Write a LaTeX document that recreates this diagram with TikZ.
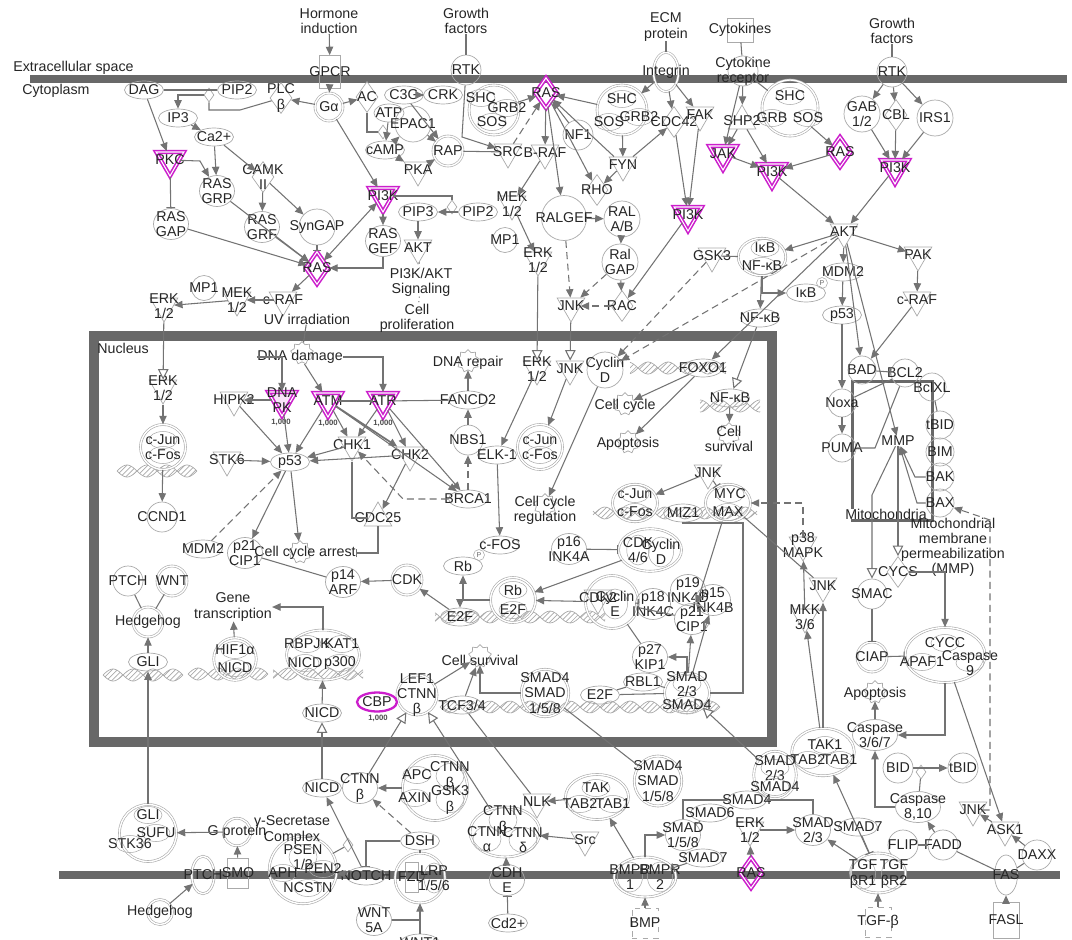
\documentclass[tikz,border=0pt]{standalone}
\usepackage{fontspec}
\setmainfont{Liberation Sans}
\usetikzlibrary{arrows.meta,positioning,shapes.geometric,shapes.symbols,patterns}

\definecolor{memb}{RGB}{104,104,104}
\definecolor{lnc}{RGB}{115,115,115}
\definecolor{shp}{RGB}{170,170,170}
\definecolor{mag}{RGB}{204,30,204}
\newcommand\lf{\fontsize{8.1}{8.6}\selectfont}
\newcommand\tf{\fontsize{4.4}{5}\selectfont\bfseries}

\tikzset{
  lbl/.style={font=\lf, text=black!85, inner sep=0pt, align=center},
  every label/.style={lbl},
  txt/.style={label={center:{#1}}},
  ov/.style={ellipse, draw=shp, line width=0.4pt, minimum width=0.78cm, minimum height=0.36cm, inner sep=0pt},
  ov2/.style={ov, minimum width=0.7cm, minimum height=0.62cm},
  cir/.style={circle, draw=shp, line width=0.4pt, minimum size=#1, inner sep=0pt},
  cir/.default=0.6cm,
  cx/.style={circle, draw=shp, line width=0.35pt, double=white, double distance=0.8pt, minimum size=#1, inner sep=0pt},
  cx/.default=0.6cm,
  cxe/.style 2 args={ellipse, draw=shp, line width=0.35pt, double=white, double distance=0.8pt, minimum width=#1, minimum height=#2, inner sep=0pt},
  sub/.style={ellipse, draw=shp, line width=0.3pt, minimum width=0.56cm, minimum height=0.34cm, inner sep=0pt},
  kin/.style={regular polygon, regular polygon sides=3, shape border rotate=180, draw=shp, line width=0.4pt, minimum size=0.64cm, inner sep=0pt},
  kinup/.style={kin, shape border rotate=0},
  enz/.style={diamond, draw=shp, line width=0.4pt, minimum width=0.44cm, minimum height=0.62cm, inner sep=0pt},
  cat/.style={diamond, draw=shp, fill=white, line width=0.4pt, minimum width=0.2cm, minimum height=0.28cm, inner sep=0pt},
  rec/.style={rectangle, draw=shp, line width=0.4pt, minimum width=0.42cm, minimum height=0.66cm, inner sep=0pt},
  fn/.style={starburst, starburst points=9, starburst point height=1.5pt, random starburst=0, draw=shp, line width=0.4pt, minimum size=0.46cm, inner sep=0pt},
  hit/.style={draw=mag, line width=0.9pt, double=white, double distance=0.6pt},
  hitov/.style={ellipse, draw=mag, line width=1.3pt, minimum width=0.8cm, minimum height=0.38cm, inner sep=0pt},
  thou/.style={font=\tf, text=black!70, inner sep=0pt},
  pmark/.style={circle, draw=shp, line width=0.3pt, minimum size=0.22cm, inner sep=0pt, font=\fontsize{4}{4}\selectfont, text=black!60},
  ln/.style={draw=lnc, line width=0.6pt},
  ar/.style={ln, -{Triangle[length=4.8pt,width=4.2pt]}},
  biar/.style={ln, {Triangle[length=4.8pt,width=4.2pt]}-{Triangle[length=4.8pt,width=4.2pt]}},
  dar/.style={ar, dash pattern=on 4pt off 2.5pt},
  inh/.style={ln, -{Bar[width=5pt]}},
  oar/.style={ln, -{Triangle[length=6pt,width=6pt,fill=white]}},
  pl/.style={ln},
  dotln/.style={ln, dotted},
  wall/.style={draw=memb, line width=0.16cm},
  pics/helix/.style={code={
    \fill[pattern=north east lines, pattern color=shp]
      plot[domain=-#1:#1, samples=60, smooth] (\x,{6*sin(9*\x)}) --
      plot[domain=#1:-#1, samples=60, smooth] (\x,{-6*sin(9*\x)}) -- cycle;
    \draw[shp, line width=0.4pt] plot[domain=-#1:#1, samples=60, smooth] (\x,{6*sin(9*\x)});
    \draw[shp, line width=0.4pt] plot[domain=-#1:#1, samples=60, smooth] (\x,{-6*sin(9*\x)});
  }}
}

\begin{document}
\begin{tikzpicture}[x=0.02cm, y=-0.02cm]
\useasboundingbox (0,0) rectangle (1072,940);
\clip (0,0) rectangle (1072,940);
\fill[white] (0,0) rectangle (1072,940);

% Membranes and compartments
\draw[wall] (30,79) -- (1067,79);
\draw[wall] (59,875) -- (1060,875);
\draw[wall, line width=0.2cm] (94,336) rectangle (772,742);
\draw[draw=memb, line width=0.06cm] (852,381) rectangle (932,520);
\node[lbl, anchor=west] (extra) at (13,68) {Extracellular space};
\node[lbl, anchor=west] (cyto) at (22,91) {Cytoplasm};
\node[lbl, anchor=west] (nucl) at (97,348) {Nucleus};

% DNA helices
\pic at (157,471) {helix=40};
\pic at (143,675) {helix=40};
\pic at (228,674) {helix=40};
\pic at (318,674) {helix=45};
\pic at (678,368) {helix=48};
\pic at (730,406) {helix=30};
\pic at (675,513) {helix=82};
\pic at (520,617) {helix=85};
\pic at (580,707) {helix=140};

% Upper left: PLC / PKC / RAS
\node[lbl] (horm) at (329,21) {Hormone\\induction};
\node[rec, txt=GPCR] (gpcr) at (330,72) {};
\node[cx=0.56cm, txt=Gα] (galpha) at (329,107) {};
\node[enz, txt={PLC\\β}] (plc) at (281,98) {};
\node[enz, txt=AC] (ac) at (367,97) {};
\node[ov, txt=C3G] (c3g) at (404,95) {};
\node[ov, txt=CRK] (crk) at (443,95) {};
\node[ov, minimum width=0.6cm, txt=ATP] (atp) at (389,113) {};
\node[cir=0.72cm, txt=EPAC1] (epac) at (413,124) {};
\node[cat] (cat2) at (383,132) {};
\node[ov, txt=cAMP] (camp) at (385,150) {};
\node[cx, txt=RAP] (rap) at (448,151) {};
\node[kin, txt=PKA] (pka) at (418,170) {};
\node[ov, txt=DAG] (dag) at (144,90) {};
\node[ov, txt=PIP2] (pip2a) at (237,90) {};
\node[cat] (cat1) at (209,95) {};
\node[ov, txt=IP3] (ip3) at (178,118) {};
\node[ov, txt=Ca2+] (ca) at (214,137) {};
\node[kin, hit, txt=PKC] (pkc) at (170,160) {};
\node[ov2, txt={RAS\\GRP}] (rasgrp) at (217,191) {};
\node[enz, txt={CAMK\\II}] (camk) at (263,177) {};
\node[ov2, txt={RAS\\GAP}] (rasgap) at (171,224) {};
\node[ov2, txt={RAS\\GRF}] (rasgrf) at (262,227) {};
\node[cir=0.72cm, txt=SynGAP] (syngap) at (317,227) {};
\node[enz, hit, minimum width=0.46cm, minimum height=0.66cm, txt=RAS] (ras1) at (317,268) {};
\node[cir=0.5cm, txt=MP1] (mp1a) at (204,288) {};
\node[kin, txt={MEK\\1/2}] (mek1) at (237,300) {};
\node[kin, txt={ERK\\1/2}] (erk1) at (164,306) {};
\node[kin, txt=c-RAF] (craf1) at (283,300) {};
\node[lbl] (uv) at (307,319) {UV irradiation};

% Upper middle: RTK / RAS / PI3K
\node[lbl] (gf1) at (466,21) {Growth\\factors};
\node[cir, txt=RTK] (rtk1) at (466,70) {};
\node[cx=1.0cm] (shc1) at (494,110) {};
\node[sub, txt=SHC] (shc1a) at (481,98) {};
\node[sub, txt=GRB2] (shc1b) at (507,108) {};
\node[sub, txt=SOS] (shc1c) at (492,122) {};
\node[kin, txt=SRC] (src) at (508,152) {};
\node[kin, txt=B-RAF] (braf) at (545,153) {};
\node[enz, hit, txt=RAS] (ras2) at (546,93) {};
\node[kin, hit, txt=PI3K] (pi3k1) at (383,196) {};
\node[ov2, txt={RAS\\GEF}] (rasgef) at (383,241) {};
\node[ov, txt=PIP3] (pip3) at (418,212) {};
\node[cat] (cat3) at (452,207) {};
\node[ov, txt=PIP2] (pip2b) at (478,212) {};
\node[kin, txt={MEK\\1/2}] (mek2) at (512,204) {};
\node[kin, txt=AKT] (akt1) at (418,248) {};
\node[lbl] (pi3ksig) at (421,282) {PI3K/AKT\\Signaling};
\node[lbl] (cellprol) at (417,318) {Cell\\proliferation};
\node[cir=0.5cm, txt=MP1] (mp1b) at (505,240) {};
\node[kin, txt={ERK\\1/2}] (erk2) at (538,260) {};

\node[lbl] (ecm) at (666,27) {ECM\\protein};
\node[cxe={0.5cm}{0.78cm}, txt=Integrin] (integ) at (666,72) {};
\node[cx=1.0cm] (shc2) at (622,110) {};
\node[sub, txt=SHC] (shc2a) at (622,99) {};
\node[sub, txt=SOS] (shc2b) at (609,122) {};
\node[sub, txt=GRB2] (shc2c) at (639,117) {};
\node[enz, txt=CDC42] (cdc42) at (674,122) {};
\node[kin, txt=FAK] (fak) at (700,115) {};
\node[cir, txt=NF1] (nf1) at (578,135) {};
\node[kin, txt=FYN] (fyn) at (623,165) {};
\node[enz, txt=RHO] (rho) at (597,190) {};
\node[cir=0.9cm, txt=RALGEF] (ralgef) at (564,218) {};
\node[cir=0.72cm, txt={RAL\\A/B}] (ralab) at (622,219) {};
\node[cir=0.72cm, txt={Ral\\GAP}] (ralgap) at (620,262) {};
\node[kin, txt=JNK] (jnk1) at (571,306) {};
\node[enz, txt=RAC] (rac) at (622,306) {};
\node[kin, hit, txt=PI3K] (pi3k2) at (688,215) {};

% Upper right: cytokines / RTK / AKT
\node[rec, minimum width=0.52cm, minimum height=0.48cm, txt=Cytokines] (cytok) at (740,30) {};
\node[cir, txt={Cytokine\\receptor}] (cytrec) at (743,71) {};
\node[kinup, txt=SHP2] (shp2) at (742,121) {};
\node[kin, hit, txt=JAK] (jak) at (723,154) {};
\node[kin, hit, txt=PI3K] (pi3k3) at (772,172) {};
\node[cx=1.12cm] (shc3) at (790,108) {};
\node[sub, txt=SHC] (shc3a) at (790,96) {};
\node[sub, txt=GRB] (shc3b) at (772,118) {};
\node[sub, txt=SOS] (shc3c) at (808,118) {};
\node[enz, hit, txt=RAS] (ras3) at (840,152) {};
\node[lbl] (gf2) at (892,31) {Growth\\factors};
\node[cir, txt=RTK] (rtk2) at (892,72) {};
\node[cir=0.72cm, txt={GAB\\1/2}] (gab) at (862,114) {};
\node[enz, txt=CBL] (cbl) at (896,115) {};
\node[cir=0.72cm, txt=IRS1] (irs1) at (935,118) {};
\node[kin, hit, txt=PI3K] (pi3k4) at (895,168) {};
\node[kin, txt=AKT] (akt2) at (844,232) {};
\node[kin, txt=GSK3] (gsk3) at (712,256) {};
\node[cxe={0.95cm}{0.75cm}] (ikbnf) at (762,257) {};
\node[sub, txt=IκB] (ikbnfa) at (765,248) {};
\node[sub, txt=NF-κB] (ikbnfb) at (762,266) {};
\node[ov, txt=IκB] (ikb) at (806,293) {};
\node[pmark] (ikbp) at (822,283) {P};
\node[ov, txt=NF-κB] (nfkb1) at (760,318) {};
\node[kin, txt=PAK] (pak) at (918,255) {};
\node[ov, txt=MDM2] (mdm2a) at (843,272) {};
\node[kin, txt=c-RAF] (craf2) at (917,300) {};
\node[ov, txt=p53] (p53a) at (842,315) {};

% Mitochondria
\node[cir=0.56cm, txt=BAD] (bad) at (862,370) {};
\node[cir=0.56cm, txt=BCL2] (bcl2) at (905,373) {};
\node[cir=0.56cm, txt=BclXL] (bclxl) at (932,387) {};
\node[cir=0.56cm, txt=Noxa] (noxa) at (842,403) {};
\node[cir=0.56cm, txt=PUMA] (puma) at (842,448) {};
\node[lbl] (mmp) at (898,441) {MMP};
\node[cir=0.56cm, txt=tBID] (tbid1) at (940,425) {};
\node[cir=0.56cm, txt=BIM] (bim) at (940,452) {};
\node[cir=0.56cm, txt=BAK] (bak) at (940,477) {};
\node[cir=0.56cm, txt=BAX] (bax) at (940,503) {};
\node[lbl, fill=white] (mito) at (886,514) {Mitochondria};
\node[lbl] (mmptext) at (953,547) {Mitochondrial\\membrane\\permeabilization\\(MMP)};
\node[enz, txt=CYCS] (cycs) at (898,572) {};
\node[cir, txt=SMAC] (smac) at (872,594) {};
\node[kin, txt=JNK] (jnk4) at (823,586) {};
\node[kin, txt={p38\\MAPK}] (p38) at (803,545) {};
\node[kin, txt={MKK\\3/6}] (mkk) at (805,617) {};
\node[cx, txt=CIAP] (ciap) at (872,657) {};
\node[cxe={1.6cm}{1.1cm}] (apop9) at (945,655) {};
\node[sub, txt=CYCC] (apop9a) at (945,643) {};
\node[sub, txt=APAF1] (apop9b) at (922,662) {};
\node[sub, txt={Caspase\\9}] (apop9c) at (970,663) {};
\node[fn] (apopt2g) at (875,692) {};
\node[lbl] (apopt2) at (875,694) {Apoptosis};
\node[ov2, minimum width=0.9cm, txt={Caspase\\3/6/7}] (casp3) at (875,735) {};
\node[cxe={1.25cm}{0.95cm}] (tak1c) at (823,752) {};
\node[sub, txt=TAK1] (tak1a) at (825,745) {};
\node[sub, txt=TAB2] (tak1b) at (808,760) {};
\node[sub, txt=TAB1] (tak1d) at (840,760) {};
\node[cir, txt=BID] (bid) at (898,768) {};
\node[cat] (cat4) at (921,772) {};
\node[cir, txt=tBID] (tbid2) at (963,768) {};
\node[ov2, minimum width=0.9cm, txt={Caspase\\8,10}] (casp8) at (918,807) {};
\node[kin, txt=JNK] (jnk5) at (973,810) {};
\node[kin, txt=ASK1] (ask1) at (1005,830) {};
\node[cir, txt=DAXX] (daxx) at (1037,855) {};
\node[cir, txt=FLIP] (flip) at (903,845) {};
\node[cir, txt=FADD] (fadd) at (943,845) {};
\node[ellipse, draw=shp, minimum width=0.46cm, minimum height=0.8cm, inner sep=0pt, txt=FAS] (fas) at (1006,875) {};
\node[rec, minimum width=0.52cm, minimum height=0.72cm, txt=FASL] (fasl) at (1006,920) {};
\node[cxe={1.1cm}{0.8cm}] (tgfr) at (878,873) {};
\node[sub, minimum width=0.5cm, minimum height=0.6cm, txt={TGF\\βR1}] (tgfra) at (863,874) {};
\node[sub, minimum width=0.5cm, minimum height=0.6cm, txt={TGF\\βR2}] (tgfrb) at (894,874) {};
\node[rec, dashed, minimum width=0.52cm, minimum height=0.6cm, txt=TGF-β] (tgfb) at (878,922) {};
\node[ov2, txt={SMAD\\2/3}] (smad23b) at (813,830) {};
\node[ov, txt=SMAD7] (smad7b) at (858,827) {};

% Bottom middle: SMAD / BMP / WNT
\node[cxe={0.85cm}{0.95cm}] (smad23c) at (775,775) {};
\node[sub, txt={SMAD\\2/3}] (smad23ca) at (775,768) {};
\node[sub, txt=SMAD4] (smad23cb) at (775,787) {};
\node[ov, txt=SMAD4] (smad4b) at (747,800) {};
\node[kin, txt={ERK\\1/2}] (erk5) at (750,830) {};
\node[enz, hit, txt=RAS] (ras4) at (751,873) {};
\node[cxe={0.95cm}{1.0cm}, txt={SMAD4\\SMAD\\1/5/8}] (smad4c) at (658,781) {};
\node[ov, txt=SMAD6] (smad6) at (710,813) {};
\node[ov2, txt={SMAD\\1/5/8}] (smad158) at (683,835) {};
\node[ov, txt=SMAD7] (smad7a) at (703,858) {};
\node[cxe={1.24cm}{0.8cm}] (bmpr) at (645,877) {};
\node[sub, minimum width=0.5cm, minimum height=0.6cm, txt={BMPR\\1}] (bmpra) at (630,877) {};
\node[sub, minimum width=0.5cm, minimum height=0.6cm, txt={BMPR\\2}] (bmprb) at (660,877) {};
\node[rec, dashed, minimum width=0.52cm, minimum height=0.6cm, txt=BMP] (bmp) at (645,923) {};
\node[cxe={1.26cm}{0.9cm}] (tak2c) at (597,797) {};
\node[sub, txt=TAK] (tak2a) at (596,788) {};
\node[sub, txt=TAB2] (tak2b) at (580,804) {};
\node[sub, txt=TAB1] (tak2d) at (613,804) {};
\node[kin, txt=Src] (srcb) at (585,840) {};
\node[kin, txt=NLK] (nlk) at (537,802) {};
\node[cxe={1.4cm}{1.0cm}] (ctnnc) at (505,832) {};
\node[sub, minimum height=0.5cm, txt={CTNN\\β}] (ctnnca) at (503,820) {};
\node[sub, minimum height=0.5cm, txt={CTNN\\α}] (ctnncb) at (487,839) {};
\node[sub, minimum height=0.5cm, txt={CTNN\\δ}] (ctnncc) at (523,840) {};
\node[ov2, txt={CDH\\E}] (cdh) at (507,880) {};
\node[ov, txt=Cd2+] (cd2) at (508,923) {};
\node[cx=1.3cm] (apcc) at (435,788) {};
\node[sub, txt=APC] (apca) at (417,775) {};
\node[sub, minimum height=0.5cm, txt={CTNN\\β}] (apcb) at (450,776) {};
\node[sub, txt=AXIN] (apcd) at (415,798) {};
\node[sub, minimum height=0.5cm, txt={GSK3\\β}] (apce) at (450,800) {};
\node[ov2, txt={CTNN\\β}] (ctnnb) at (360,788) {};
\node[ov, txt=NICD] (nicdc) at (322,788) {};
\node[ov, txt=DSH] (dsh) at (420,841) {};
\node[cat] (cat5) at (348,845) {};
\node[ov, txt=NOTCH] (notch) at (366,876) {};
\node[cx=1.0cm] (fzdc) at (420,878) {};
\node[rectangle, draw=shp, minimum width=0.26cm, minimum height=0.6cm, inner sep=0pt, txt=FZD] (fzda) at (412,877) {};
\node[sub, minimum width=0.4cm, minimum height=0.6cm, txt={LRP\\1/5/6}] (fzdb) at (434,878) {};
\node[ov2, txt={WNT\\5A}] (wnt5a) at (374,920) {};
\node[ov, txt=WNT1] (wnt1) at (420,943) {};
\node[cx=1.35cm] (secr) at (303,870) {};
\node[sub, minimum height=0.5cm, txt={PSEN\\1/2}] (secra) at (303,857) {};
\node[sub, txt=PEN2] (secrb) at (323,869) {};
\node[sub, txt=APH] (secrc) at (283,873) {};
\node[sub, txt=NCSTN] (secrd) at (308,888) {};
\node[lbl] (gsec) at (292,830) {γ-Secretase\\Complex};
\node[cx=0.55cm, txt=G protein] (gprot) at (237,832) {};
\node[cx=1.14cm] (glic) at (148,833) {};
\node[sub, txt=GLI] (glica) at (148,815) {};
\node[sub, txt=SUFU] (glicb) at (156,833) {};
\node[sub, txt=STK36] (glicc) at (130,844) {};
\node[cxe={0.45cm}{0.75cm}, txt=PTCH] (ptch2) at (203,875) {};
\node[rec, minimum height=0.6cm, txt=SMO] (smo) at (238,873) {};
\node[cx=0.5cm, txt=Hedgehog] (hh2) at (160,912) {};

% Nucleus: DNA damage response
\node[fn] (dnadg) at (302,353) {};
\node[lbl] (dnad) at (300,357) {DNA damage};
\node[kin, hit, fill=mag!12, txt={DNA\\PK}] (dnapk) at (282,400) {};
\node[thou] (dnapkn) at (281,422) {1,000};
\node[kin, txt=HIPK2] (hipk2) at (234,400) {};
\node[kin, hit, txt=ATM] (atm) at (328,401) {};
\node[thou] (atmn) at (328,423) {1,000};
\node[kin, hit, txt=ATR] (atr) at (383,401) {};
\node[thou] (atrn) at (383,423) {1,000};
\node[ov, txt=FANCD2] (fancd2) at (468,400) {};
\node[fn] (dnarepg) at (468,361) {};
\node[lbl] (dnarep) at (468,363) {DNA repair};
\node[cir, txt=NBS1] (nbs1) at (468,440) {};
\node[ov, txt=BRCA1] (brca1) at (468,499) {};
\node[kin, txt=CHK1] (chk1) at (352,445) {};
\node[kin, txt=CHK2] (chk2) at (410,455) {};
\node[ov, txt=p53] (p53b) at (290,462) {};
\node[kin, txt=STK6] (stk6) at (227,460) {};
\node[kinup, txt=CDC25] (cdc25) at (378,518) {};
\node[fn] (ccag) at (300,552) {};
\node[lbl] (cca) at (305,553) {Cell cycle arrest};
\node[ov, txt=MDM2] (mdm2b) at (203,549) {};
\node[ov2, txt={p21\\CIP1}] (p21a) at (245,553) {};
\node[ov2, txt={p14\\ARF}] (p14) at (343,582) {};
\node[cx, txt=CDK] (cdk) at (407,580) {};
\node[ov, txt=c-FOS] (cfos) at (500,545) {};
\node[ov, txt=Rb] (rb) at (463,566) {};
\node[pmark] (rbp) at (479,555) {P};
\node[cx=0.9cm] (rbe2f) at (513,600) {};
\node[sub, txt=Rb] (rbe2fa) at (513,590) {};
\node[sub, txt=E2F] (rbe2fb) at (513,610) {};
\node[ov, txt=E2F] (e2fa) at (460,617) {};

% Nucleus: left
\node[kin, txt={ERK\\1/2}] (erk4) at (163,388) {};
\node[cx=0.9cm] (jfos1) at (163,447) {};
\node[sub, txt=c-Jun] (jfos1a) at (163,440) {};
\node[sub, txt=c-Fos] (jfos1b) at (163,455) {};
\node[cir, txt=CCND1] (ccnd1) at (162,517) {};
\node[cir, txt=PTCH] (ptch1) at (128,581) {};
\node[cx, txt=WNT] (wnt) at (172,581) {};
\node[cx, txt=Hedgehog] (hh1) at (148,622) {};
\node[ov, txt=GLI] (glib) at (148,662) {};
\node[lbl] (genetr) at (233,607) {Gene\\transcription};
\node[cx=0.85cm] (hif) at (235,659) {};
\node[sub, txt=HIF1α] (hifa) at (235,650) {};
\node[sub, txt=NICD] (hifb) at (235,668) {};
\node[cxe={1.46cm}{1.0cm}] (rbpjk) at (323,655) {};
\node[sub, txt=RBPJK] (rbpjka) at (307,644) {};
\node[sub, txt=KAT1] (rbpjkb) at (342,644) {};
\node[sub, txt=NICD] (rbpjkc) at (305,663) {};
\node[sub, txt=p300] (rbpjkd) at (340,663) {};
\node[ov, txt=NICD] (nicdb) at (322,713) {};

% Nucleus: middle and right
\node[kin, txt={ERK\\1/2}] (erk3) at (537,369) {};
\node[ov, txt=ELK-1] (elk1) at (497,455) {};
\node[cx=0.9cm] (jfos2) at (540,447) {};
\node[sub, txt=c-Jun] (jfos2a) at (540,440) {};
\node[sub, txt=c-Fos] (jfos2b) at (540,455) {};
\node[fn] (ccrg) at (545,505) {};
\node[lbl] (ccr) at (545,510) {Cell cycle\\regulation};
\node[kin, txt=JNK] (jnk2) at (570,369) {};
\node[cir=0.72cm, txt={Cyclin\\D}] (cycd) at (605,370) {};
\node[ov, txt=FOXO1] (foxo1) at (703,368) {};
\node[fn] (cellcycg) at (625,404) {};
\node[lbl] (cellcyc) at (625,406) {Cell cycle};
\node[fn] (apopt1g) at (628,442) {};
\node[lbl] (apopt1) at (628,444) {Apoptosis};
\node[ov, txt=NF-κB] (nfkb2) at (730,398) {};
\node[fn] (cellsurv1g) at (729,434) {};
\node[lbl] (cellsurv1) at (729,439) {Cell\\survival};
\node[kin, txt=JNK] (jnk3) at (708,473) {};
\node[cxe={0.9cm}{0.75cm}] (jfos3) at (635,503) {};
\node[sub, txt=c-Jun] (jfos3a) at (635,494) {};
\node[sub, txt=c-Fos] (jfos3b) at (635,512) {};
\node[ov, txt=MIZ1] (miz1) at (683,513) {};
\node[cxe={0.9cm}{0.75cm}] (mycmax) at (728,503) {};
\node[sub, txt=MYC] (mycmaxa) at (730,494) {};
\node[sub, txt=MAX] (mycmaxb) at (728,512) {};
\node[ov2, txt={p16\\INK4A}] (p16) at (569,549) {};
\node[cxe={1.26cm}{0.85cm}] (cdk46) at (650,550) {};
\node[sub, minimum width=0.45cm, minimum height=0.6cm, txt={CDK\\4/6}] (cdk46a) at (638,550) {};
\node[sub, minimum width=0.5cm, minimum height=0.6cm, txt={Cyclin\\D}] (cdk46b) at (661,552) {};
\node[cx=1.06cm] (cdk2c) at (612,602) {};
\node[kin, txt=CDK2] (cdk2a) at (598,598) {};
\node[sub, minimum width=0.5cm, minimum height=0.6cm, txt={Cyclin\\E}] (cdk2b) at (615,604) {};
\node[ov2, txt={p18\\INK4C}] (p18) at (653,604) {};
\node[ov2, txt={p19\\INK4D}] (p19) at (688,590) {};
\node[ov2, txt={p15\\INK4B}] (p15) at (713,600) {};
\node[ov2, txt={p21\\CIP1}] (p21b) at (692,619) {};
\node[ov2, txt={p27\\KIP1}] (p27) at (650,657) {};
\node[ov, txt=RBL1] (rbl1) at (643,682) {};
\node[ov, txt=E2F] (e2fb) at (600,695) {};
\node[cxe={0.9cm}{0.8cm}] (smad23a) at (687,693) {};
\node[sub, txt={SMAD\\2/3}] (smad23aa) at (687,684) {};
\node[sub, txt=SMAD4] (smad23ab) at (687,705) {};
\node[cx=0.95cm, txt={SMAD4\\SMAD\\1/5/8}] (smad4a) at (545,693) {};
\node[ov, txt=TCF3/4] (tcf) at (462,705) {};
\node[cx=0.8cm, txt={LEF1\\CTNN\\β}] (lef1) at (417,695) {};
\node[hitov, txt=CBP] (cbp) at (377,702) {};
\node[thou] (cbpn) at (378,718) {1,000};
\node[fn] (cellsurv2g) at (480,656) {};
\node[lbl] (cellsurv2) at (480,660) {Cell survival};

% Connectors: upper left
\draw[ar] (horm) -- (gpcr);
\draw[ar] (gpcr) -- (galpha);
\draw[ar] (galpha) -- (plc);
\draw[ar] (galpha) -- (ac);
\draw[ar] (galpha) -- (pi3k1);
\draw[ar] (crk) -- (c3g);
\draw[ar] (c3g) -- (rap);
\draw[pl] (ac) |- (cat2);
\draw[ar] (atp) -- (camp);
\draw[ar] (camp) -- (epac);
\draw[ar] (camp) -- (pka);
\draw[ar] (epac) -- (rap);
\draw[ar] (pka) -- (rap);
\draw[pl] (rap) -- (src);
\draw[ar] (rtk1) -- (462,137) -- (src);
\draw[ar] (shc1) -- (ras2);
\draw[ar] (ras2) -- (braf);
\draw[dar] (src) -- (ras2);
\draw[ar] (braf) -- (mek2);
\draw[ar] (mek2) -- (erk2);
\draw[oar] (erk2) -- (erk3);
\draw[pl] (pip2a) -- (dag);
\draw[pl] (cat1) |- (240,110) -- (plc);
\draw[ar] (cat1) -| (ip3);
\draw[ar] (dag) -- (pkc);
\draw[ar] (ip3) -- (ca);
\draw[ar] (ca) -- (rasgrp);
\draw[ar] (ca) -- (camk);
\draw[ar] (pkc) -- (200,161) -- (rasgrp);
\draw[inh] (pkc) -- (rasgap);
\draw[ar] (camk) -- (syngap);
\draw[inh] (syngap) -- (ras1);
\draw[ar] (camk) -- (rasgrf);
\draw[ar] (rasgrp) -- (ras1);
\draw[ar] (rasgrf) -- (ras1);
\draw[ar] (rasgap) -- (ras1);
\draw[ar] (pi3k1) -- (rasgef);
\draw[ar] (rasgef) |- (ras1);
\draw[biar] (ras1) -- (pi3k1);
\draw[pl] (pi3k1) -| (cat3);
\draw[ar] (pip2b) -- (pip3);
\draw[ar] (pip3) -- (akt1);
\draw[dotln] (akt1) -- (pi3ksig);
\draw[dotln] (pi3ksig) -- (cellprol);
\draw[ar] (ras1) -- (craf1);
\draw[ar] (craf1) -- (mek1);
\draw[ar] (mek1) -- (erk1);
\draw[oar] (erk1) -- (erk4);
\draw[pl] (uv) -- (dnadg);

% Connectors: upper middle
\draw[pl] (gf1) -- (rtk1);
\draw[ar] (nf1) -- (ras2);
\draw[ar] (ras2) -- (rho);
\draw[ar] (ras2) -- (ralgef);
\draw[ar] (fyn) -- (ras2);
\draw[ar] (shc2) -- (ras2);
\draw[pl] (ecm) -- (integ);
\draw[ar] (integ) -- (shc2);
\draw[ar] (integ) -- (cdc42);
\draw[ar] (integ) -- (fak);
\draw[ar] (cdc42) -- (pi3k2);
\draw[ar] (fak) -- (pi3k2);
\draw[ar] (fyn) -- (cdc42);
\draw[ar] (shc2) -- (fyn);
\draw[ar] (fyn) -- (rho);
\draw[ar] (ralgef) -- (ralab);
\draw[dar] (ralgef) -- (jnk1);
\draw[ar] (ralab) -- (ralgap);
\draw[ar] (ralgap) -- (rac);
\draw[dar] (ralgap) -- (jnk1);
\draw[dar] (rac) -- (jnk1);
\draw[ar] (pi3k2) -- (rac);
\draw[oar] (jnk1) -- (jnk2);

% Connectors: upper right
\draw[pl] (cytok) -- (cytrec);
\draw[ar] (cytrec) -- (jak);
\draw[ar] (cytrec) -- (shp2);
\draw[pl] (cytrec) -- (shc3);
\draw[ar] (shp2) -- (jak);
\draw[ar] (shp2) -- (pi3k3);
\draw[ar] (jak) -- (pi3k3);
\draw[ar] (shc3) -- (ras3);
\draw[ar] (ras3) -- (pi3k3);
\draw[ar] (pi3k3) -- (akt2);
\draw[pl] (gf2) -- (rtk2);
\draw[ar] (rtk2) -- (gab);
\draw[ar] (rtk2) -- (cbl);
\draw[ar] (rtk2) -- (irs1);
\draw[ar] (gab) -- (pi3k4);
\draw[ar] (cbl) -- (pi3k4);
\draw[ar] (irs1) -- (pi3k4);
\draw[ar] (pi3k4) -- (akt2);
\draw[ar] (akt2) -- (ikbnf);
\draw[pl] (gsk3) -- (ikbnf);
\draw[ar] (ikbnf) |- (ikb);
\draw[ar] (ikbnf) -- (nfkb1);
\draw[oar] (nfkb1) -- (nfkb2);
\draw[dar] (akt2) -- (cycd);
\draw[dar] (gsk3) -- (cycd);
\draw[ar] (akt2) -- (foxo1);
\draw[ar] (akt2) -- (mdm2a);
\draw[ar] (mdm2a) -- (p53a);
\draw[ar] (akt2) -- (pak);
\draw[ar] (pak) -- (craf2);
\draw[ar] (craf2) -- (bad);
\draw[ar] (akt2) -- (bad);
\draw[ar] (akt2) -- (mmp);
\draw[ar] (p53a) -- (noxa);
\draw[ar] (noxa) -- (puma);
\draw[inh] (bad) -- (bcl2);
\draw[pl] (noxa) -- (bcl2);
\draw[pl] (puma) -- (875,448) -- (bcl2);
\draw[pl] (bclxl) -- (tbid1);
\draw[ar] (bak) -- (915,477) -- (mmp);
\draw[ar] (bax) -- (917,503) -- (mmp);
\draw[oar] (mmp) -- (872,495) -- (smac);
\draw[oar] (mmp) -- (cycs);
\draw[ar] (cycs) -| (apop9);
\draw[inh] (smac) -- (ciap);
\draw[inh] (ciap) -- (apop9);
\draw[ar] (apop9) |- (casp3);
\draw[ar] (apop9) -- (ask1);
\draw[ar] (casp3) -- (apopt2g);
\draw[ar] (casp8) -| (casp3);
\draw[ar] (bid) -- (tbid2);
\draw[pl] (casp8) -- (cat4);
\draw[ar] (fadd) -- (casp8);
\draw[pl] (flip) -- (fadd);
\draw[pl] (fas) -- (fadd);
\draw[ar] (fasl) -- (fas);
\draw[pl] (fas) -- (daxx);
\draw[ar] (daxx) -- (ask1);
\draw[ar] (ask1) -- (jnk5);
\draw[dar] (jnk5) -| (990,520) -- (bax);
\draw[ar] (tgfb) -- (tgfr);
\draw[ar] (tgfr) -- (tak1c);
\draw[ar] (tgfr) -- (smad23b);
\draw[inh] (smad7b) -- (tgfr);
\draw[ar] (tak1c) -- (mkk);
\draw[ar] (tak1c) -- (jnk4);
\draw[ar] (mkk) -- (p38);
\draw[dar] (p38) |- (mycmax);
\draw[pl] (jnk4) -- (mycmax);

% Connectors: bottom
\draw[ar] (ras4) -- (erk5);
\draw[ar] (erk5) -- (smad23b);
\draw[pl] (smad4b) -| (smad23b);
\draw[pl] (smad158) |- (smad4b);
\draw[oar] (smad23c) -- (smad23a);
\draw[pl] (smad4c) -- (smad4a);
\draw[ar] (bmpr) |- (smad158);
\draw[inh] (smad7a) -- (bmpr);
\draw[pl] (smad6) -- (smad158);
\draw[ar] (bmpr) -- (tak2c);
\draw[ar] (bmp) -- (bmpr);
\draw[ar] (tak2c) -- (nlk);
\draw[ar] (srcb) -- (ctnnc);
\draw[ar] (cdh) -- (ctnnc);
\draw[inh] (cd2) -- (cdh);
\draw[pl] (nlk) -- (tcf);
\draw[oar] (ctnnc) -- (lef1);
\draw[oar] (ctnnb) -- (lef1);
\draw[ar] (apcc) -- (ctnnb);
\draw[dar] (dsh) -- (ctnnb);
\draw[pl] (fzdc) -- (dsh);
\draw[inh] (dsh) -| (notch);
\draw[ar] (notch) -- (nicdc);
\draw[ar] (notch) -- (secr);
\draw[pl] (secr) -- (cat5);
\draw[oar] (nicdc) -- (nicdb);
\draw[ar] (nicdb) -- (rbpjk);
\draw[ar] (wnt1) -- (fzdc);
\draw[inh] (wnt5a) -- (wnt1 |- wnt5a);
\draw[ar] (hh2) -- (ptch2);
\draw[ar] (smo) -- (gprot);
\draw[ar] (gprot) -- (glic);
\draw[ar] (glic) -- (glib);
\draw[ar] (glib) -- (hh1);
\draw[pl] (ptch1) -- (hh1);
\draw[pl] (wnt) -- (hh1);
\draw[ar] (hif) -- (genetr);
\draw[ar] (rbpjk) |- (genetr);
\draw[ar] (lef1) -- (cellsurv2g);
\draw[ar] (tcf) -- (cellsurv2g);
\draw[ar] (smad4a) -| (cellsurv2g);
\draw[pl] (cbp) -- (lef1);

% Connectors: nucleus
\draw[ar] (dnad) -| (atr);
\draw[ar] (dnad) -- (atm);
\draw[ar] (dnad) -| (dnapk);
\draw[ar] (dnapk) -- (hipk2);
\draw[ar] (hipk2) -- (p53b);
\draw[ar] (dnapk) -- (p53b);
\draw[ar] (atm) -- (p53b);
\draw[ar] (atm) -- (chk1);
\draw[ar, line width=1pt] (atm) -- (chk2);
\draw[ar] (atm) -- (brca1);
\draw[pl] (atm) -- (atr);
\draw[pl] (atr) -- (fancd2);
\draw[ar] (atr) -- (chk1);
\draw[ar] (atr) -- (chk2);
\draw[ar] (atr) -- (brca1);
\draw[ar] (chk1) -- (p53b);
\draw[ar] (chk2) -- (p53b);
\draw[inh] (chk1) |- (cdc25);
\draw[ar] (chk2) -- (cdc25);
\draw[inh] (cdc25) |- (cca);
\draw[dar] (brca1) -- (403,499) -- (chk1);
\draw[dar] (brca1) -- (nbs1);
\draw[ar] (nbs1) -- (fancd2);
\draw[ar] (fancd2) -- (dnarepg);
\draw[ar] (stk6) -- (p53b);
\draw[ar] (p53b) -- (p21a);
\draw[ar] (p53b) -- (ccag);
\draw[dar] (mdm2b) -- (p53b);
\draw[pl] (p21a) -- (p14);
\draw[ar] (cdk) -- (p14);
\draw[ar] (e2fa) -- (cdk);
\draw[ar] (rbe2f) -| (rb);
\draw[ar] (rbe2f) -| (e2fa);
\draw[ar] (cdk46) -- (rbe2f);
\draw[ar] (cdk2c) -- (rbe2f);
\draw[inh] (p16) -- (cdk46);
\draw[ar] (erk3) -- (elk1);
\draw[ar] (elk1) -- (cfos);
\draw[ar] (erk4) -- (jfos1);
\draw[ar] (jfos1) -- (ccnd1);
\draw[ar] (jnk2) -- (jfos2);
\draw[ar] (cycd) -- (ccrg);
\draw[ar] (foxo1) -- (cellcycg);
\draw[ar] (foxo1) -- (apopt1g);
\draw[ar] (nfkb2) -- (cellsurv1g);
\draw[ar] (jnk3) -- (jfos3);
\draw[inh] (jnk3) -- (mycmax);
\draw[pl] (miz1) |- (743,523) |- (smad23a);
\draw[ar] (mycmax) -- (p21b);
\draw[ar] (smad23a) |- (p27);
\draw[ar] (smad23a) -- (p21b);
\draw[ar] (smad23a) -- (p15);
\draw[pl] (smad23a) -- (rbl1);
\draw[pl] (rbl1) -- (e2fb);
\draw[pl] (smad23a) -- (e2fb);
\draw[pl] (p27) -- (cdk2c);
\draw[inh] (p18) -- (cdk2c);
\draw[pl] (cdk2c) -- (p21b);
\end{tikzpicture}
\end{document}
